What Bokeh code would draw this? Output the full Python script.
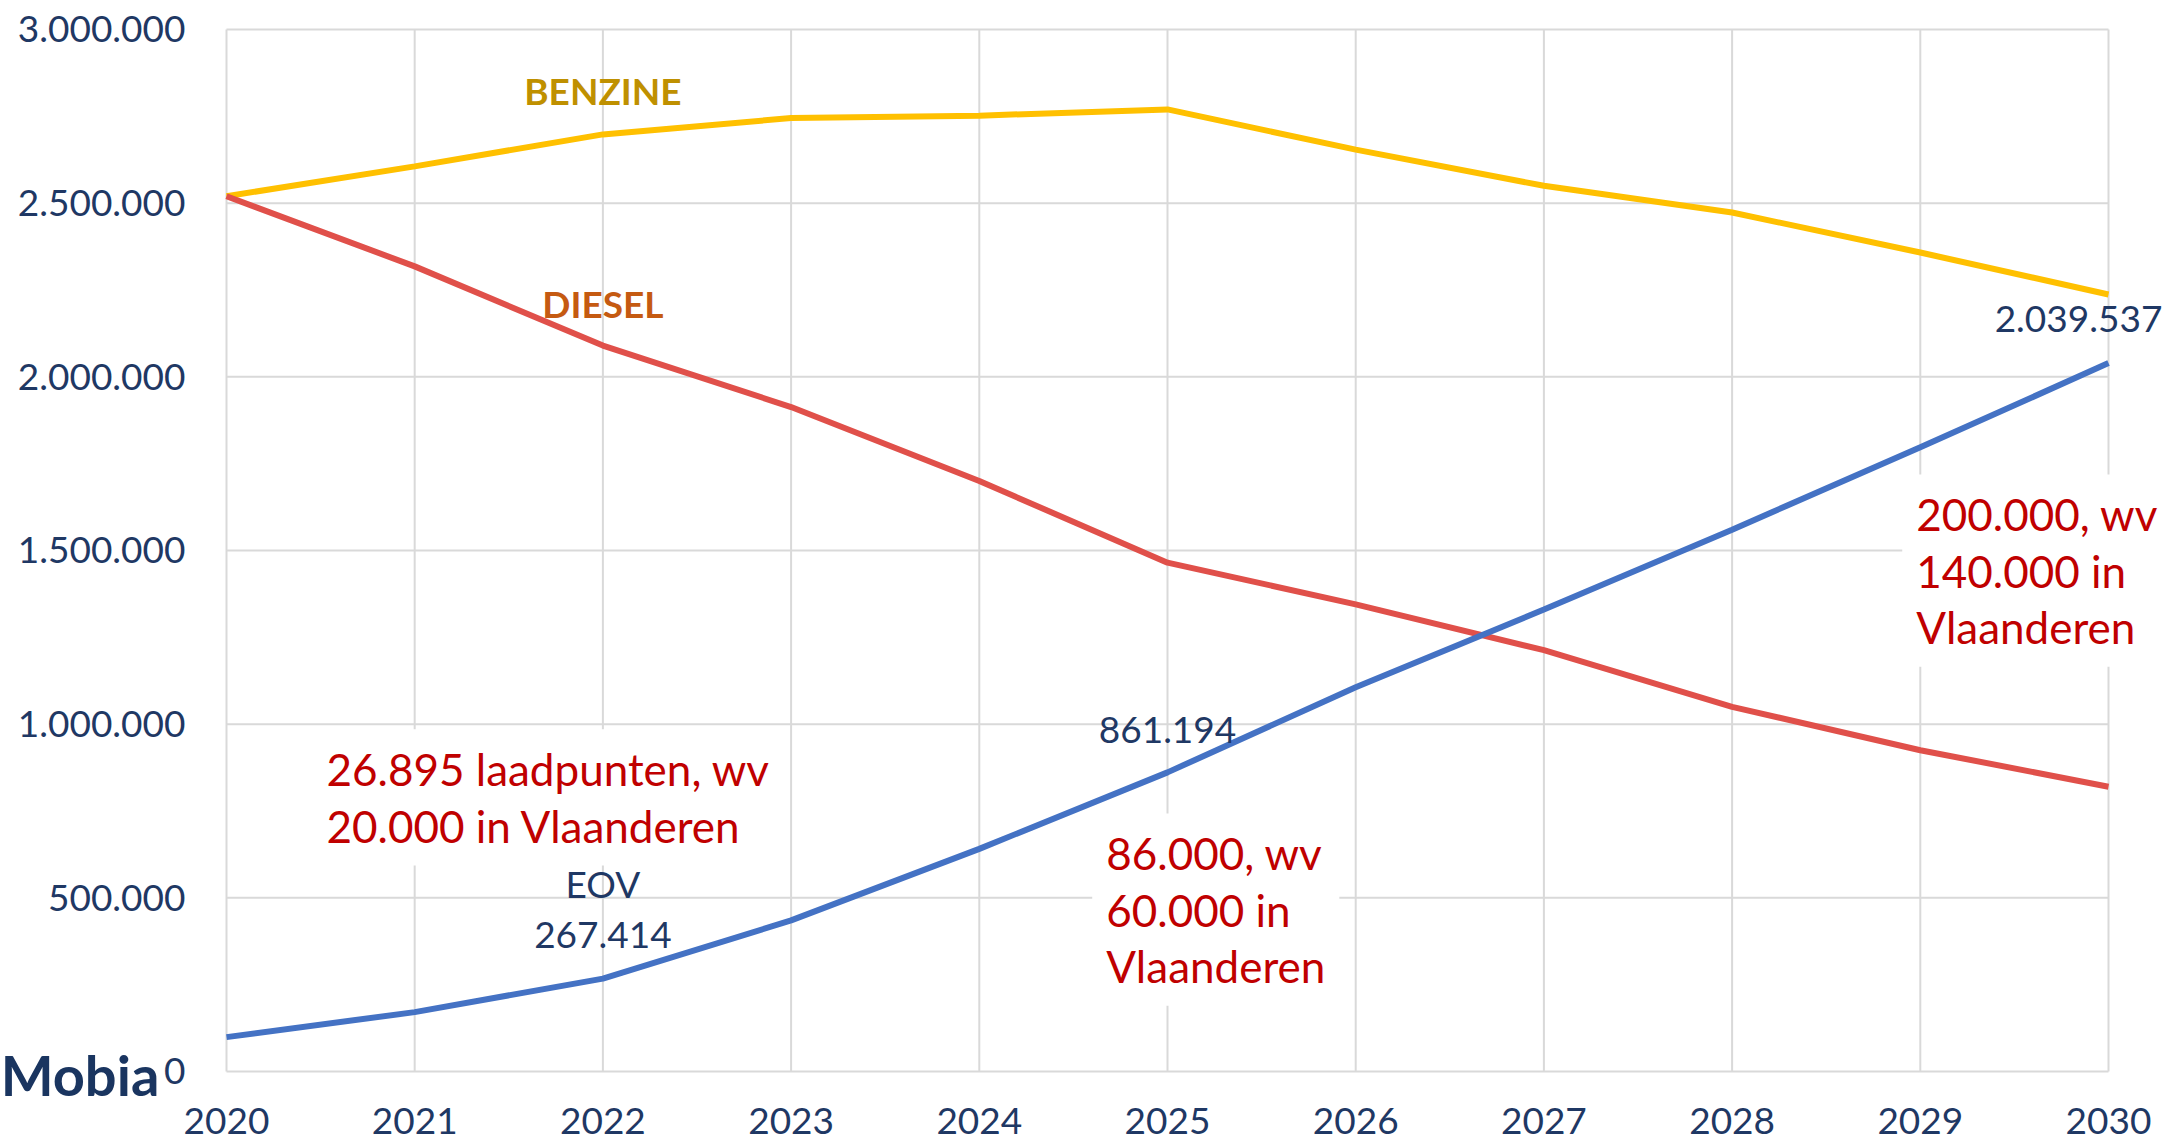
from bokeh.plotting import figure
from bokeh.models import FixedTicker, CustomJSTickFormatter, Label, Range1d
from bokeh.embed import file_html
from bokeh.resources import INLINE

# ---- data ----
years = [2020, 2021, 2022, 2023, 2024, 2025, 2026, 2027, 2028, 2029, 2030]
benzine = [2520000, 2606000, 2698000, 2745000, 2752000, 2770000, 2654000, 2550000, 2473000, 2358000, 2237000]
diesel = [2520000, 2318000, 2090000, 1913000, 1700000, 1465000, 1345000, 1213000, 1050000, 925000, 820000]
eov = [99000, 171000, 267414, 435000, 641000, 861194, 1106000, 1330000, 1560000, 1797000, 2039537]
y_ticks = [0, 500000, 1000000, 1500000, 2000000, 2500000, 3000000]
series_names = ["BENZINE", "DIESEL", "EOV"]
note_2022 = "26.895 laadpunten, wv\n20.000 in Vlaanderen"
note_2025 = "86.000, wv\n60.000 in\nVlaanderen"
note_2030 = "200.000, wv\n140.000 in\nVlaanderen"
logo_text = "Mobia"


def fmt(v):
    return f"{v:,}".replace(",", ".")


FONT = "Lato"
NAVY = "#1F3864"
RED_NOTE = "#C00000"
GRID = "#D9D9D9"

# the frame fills the whole canvas; the plot area (2020-2030, 0-3.000.000) sits inside it
p = figure(width=2177, height=1144,
           x_range=Range1d(2018.7992, 2030.3666), y_range=Range1d(-210173, 3083493),
           output_backend="svg", toolbar_location=None, min_border=0)

p.background_fill_color = "white"
p.border_fill_color = "white"
p.outline_line_color = None
p.grid.visible = False

# ---- grid lines, limited to the plot area ----
n_x, n_y = len(years), len(y_ticks)
p.segment(x0=years, y0=[y_ticks[0]] * n_x, x1=years, y1=[y_ticks[-1]] * n_x,
          line_color=GRID, line_width=2)
p.segment(x0=[years[0]] * n_y, y0=y_ticks, x1=[years[-1]] * n_y, y1=y_ticks,
          line_color=GRID, line_width=2)

# ---- axes pinned to the plot area ----
p.xaxis.ticker = FixedTicker(ticks=years)
p.yaxis.ticker = FixedTicker(ticks=y_ticks)
p.xaxis.fixed_location = y_ticks[0]
p.yaxis.fixed_location = years[0]
p.xaxis.bounds = (years[0], years[-1])
p.yaxis.bounds = (y_ticks[0], y_ticks[-1])
p.yaxis.formatter = CustomJSTickFormatter(
    code="return tick.toFixed(0).replace(/\\B(?=(\\d{3})+(?!\\d))/g, '.');")

for ax in (p.xaxis, p.yaxis):
    ax.axis_line_color = None
    ax.major_tick_line_color = None
    ax.minor_tick_line_color = None
    ax.major_tick_out = 0
    ax.major_tick_in = 0
    ax.major_label_text_font = FONT
    ax.major_label_text_font_size = "37px"
    ax.major_label_text_color = NAVY
p.yaxis.major_label_standoff = 41
p.xaxis.major_label_standoff = 37

# ---- lines ----
p.line(years, benzine, line_color="#FFC000", line_width=6)
p.line(years, diesel, line_color="#E0504A", line_width=6)
p.line(years, eov, line_color="#4472C4", line_width=6)


def add_label(**kw):
    p.add_layout(Label(text_font=FONT, **kw))


# ---- series name labels ----
add_label(x=2022, y=2824000, text=series_names[0], text_font_style="bold",
          text_font_size="37px", text_color="#BF9000", text_align="center", text_baseline="middle")
add_label(x=2022, y=2211000, text=series_names[1], text_font_style="bold",
          text_font_size="37px", text_color="#C55A11", text_align="center", text_baseline="middle")

# ---- data labels ----
add_label(x=years[2], y=eov[2], y_offset=70, text=f"{series_names[2]}\n{fmt(eov[2])}",
          text_font_size="37px", text_color=NAVY, text_line_height=1.12,
          text_align="center", text_baseline="middle")
add_label(x=years[5], y=eov[5], y_offset=42, text=fmt(eov[5]),
          text_font_size="37px", text_color=NAVY, text_align="center", text_baseline="middle")
add_label(x=years[10], y=eov[10], x_offset=-30, y_offset=44, text=fmt(eov[10]),
          text_font_size="37px", text_color=NAVY, text_align="center", text_baseline="middle")

# ---- red notes with white boxes ----
for nx, ny, txt in [(2020.457, 789000, note_2022),
                    (2024.600, 466000, note_2025),
                    (2028.904, 1442000, note_2030)]:
    add_label(x=nx, y=ny, text=txt, text_font_size="44px", text_color=RED_NOTE,
              text_line_height=1.08, text_align="left", text_baseline="middle",
              background_fill_color="white", padding=14)

# ---- logo ----
add_label(x=2018.80, y=-8000, text=logo_text, text_font_style="bold",
          text_font_size="56px", text_color="#1A3560", text_align="left",
          text_baseline="alphabetic")

open("out.html", "w").write(file_html(p, INLINE))
